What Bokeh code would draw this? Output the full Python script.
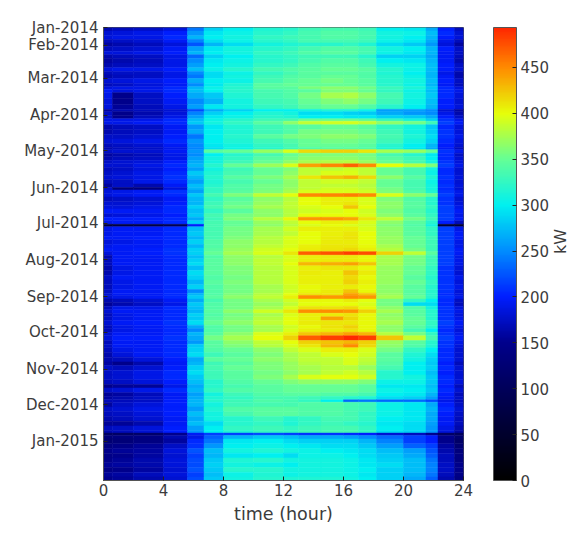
from math import pi
from bokeh.plotting import figure
from bokeh.models import (ColumnDataSource, LinearColorMapper, ColorBar, FixedTicker, Range1d, LinearAxis)
from bokeh.embed import file_html
from bokeh.resources import INLINE

hour_edges = [0, 0.6, 2, 4, 5.6, 6.7, 8, 10, 12, 13, 14.5, 16, 17, 18.2, 20, 21.5, 22.3, 23.4, 24]
month_days = [0, 15, 43, 74, 104, 135, 165, 196, 227, 257, 288, 318, 349]
month_labels = ["Jan-2014", "Feb-2014", "Mar-2014", "Apr-2014", "May-2014", "Jun-2014", "Jul-2014",
                "Aug-2014", "Sep-2014", "Oct-2014", "Nov-2014", "Dec-2014", "Jan-2015"]
hour_ticks = [0, 4, 8, 12, 16, 20, 24]
kw_ticks = [0, 50, 100, 150, 200, 250, 300, 350, 400, 450]
kw_max = 493.5
total_days = 382

row_days = [0, 3, 7, 10, 13, 16, 20, 23, 26, 30, 34, 37, 40, 43, 47, 50, 52, 55, 60, 65, 69, 71, 74, 77, 79, 82,
            86, 90, 94, 98, 101, 103, 106, 109, 112, 115, 118, 121, 125, 128, 132, 135, 137, 140, 143, 147, 150,
            153, 157, 160, 163, 166, 168, 172, 176, 179, 183, 186, 189, 192, 195, 198, 201, 205, 209, 213, 217,
            221, 224, 226, 229, 232, 235, 238, 241, 244, 247, 251, 254, 257, 260, 264, 267, 270, 274, 278, 282,
            285, 289, 293, 297, 301, 304, 308, 311, 314, 316, 320, 324, 328, 332, 336, 340, 342, 344, 347, 351,
            355, 359, 363, 367, 371, 375, 379]

kw_rows = [
    [165,170,175,185,240,285,300,315,320,330,335,335,330,300,295,265,200,170],
    [180,185,190,200,255,295,305,320,325,335,340,340,335,310,305,275,205,180],
    [185,190,190,205,270,300,310,325,330,335,340,340,335,310,300,270,200,185],
    [170,175,180,195,245,290,305,320,325,335,335,335,330,305,295,265,190,170],
    [160,165,170,185,225,270,290,310,315,320,320,325,315,290,280,255,185,160],
    [170,175,180,195,260,295,310,320,325,335,340,340,335,310,300,270,200,175],
    [185,185,190,200,270,300,310,325,330,340,345,345,335,305,295,270,195,175],
    [165,170,175,190,235,285,300,320,325,330,330,330,320,285,285,265,195,170],
    [160,165,170,190,250,295,305,320,325,335,340,340,330,300,295,270,195,165],
    [165,170,175,190,260,300,310,325,330,340,345,345,335,310,305,275,200,175],
    [185,190,190,200,275,305,320,335,340,345,350,350,345,320,305,275,200,180],
    [170,175,175,190,250,290,305,325,335,345,345,345,340,315,300,270,190,165],
    [165,170,175,190,240,290,310,330,340,345,350,350,340,320,305,270,195,165],
    [180,185,190,200,265,300,305,335,345,350,355,350,345,320,310,275,200,175],
    [170,175,185,195,250,295,315,345,350,350,350,350,345,320,305,270,195,170],
    [185,190,190,205,270,305,320,345,345,360,365,365,355,330,315,280,205,185],
    [195,185,190,205,275,300,320,335,340,345,360,360,350,325,305,275,205,190],
    [190,150,175,200,265,280,315,335,340,355,375,378,365,335,310,280,205,185],
    [185,150,175,195,250,270,310,330,335,350,360,365,355,330,305,275,200,180],
    [185,155,170,190,260,295,310,325,330,345,350,350,340,320,300,270,200,185],
    [160,165,170,180,220,265,285,300,300,310,315,315,305,260,260,250,180,160],
    [175,150,165,185,245,285,300,315,310,290,290,285,280,265,255,250,190,165],
    [175,150,170,190,260,295,305,320,315,300,300,295,295,285,280,265,200,175],
    [190,190,190,205,275,305,320,330,335,350,350,350,345,325,310,285,210,190],
    [190,190,195,205,280,310,325,345,365,385,390,392,385,365,355,330,215,195],
    [165,170,175,195,255,295,315,330,340,345,350,350,345,325,310,280,205,185],
    [165,170,175,195,265,300,315,330,340,355,355,355,350,330,310,285,210,185],
    [175,175,180,200,240,300,320,345,355,360,365,365,360,335,315,290,210,190],
    [180,185,190,205,255,300,315,330,340,350,355,355,350,330,310,285,205,185],
    [170,175,180,195,250,295,310,325,335,350,350,350,345,320,300,270,200,180],
    [165,170,175,190,245,290,305,320,330,340,345,345,340,315,295,265,195,170],
    [175,180,180,195,255,345,350,370,395,415,420,420,410,375,370,350,210,190],
    [160,165,170,190,250,300,320,335,350,360,360,360,355,335,320,295,205,175],
    [165,170,175,190,260,310,325,345,355,365,365,365,360,345,330,300,205,180],
    [175,180,185,200,265,310,330,350,365,375,378,380,370,350,335,310,210,185],
    [180,180,190,205,270,320,350,372,395,440,452,468,450,400,380,360,215,190],
    [170,175,185,200,260,310,330,350,360,385,385,390,385,350,335,310,205,180],
    [175,180,190,205,280,315,335,350,365,385,395,395,385,350,335,305,205,180],
    [180,185,190,210,270,320,345,360,375,410,425,432,415,365,345,315,210,185],
    [170,175,190,205,260,315,335,350,365,385,390,390,385,350,335,305,205,180],
    [160,175,165,195,275,320,340,355,365,385,385,385,380,350,335,310,210,185],
    [175,130,135,185,270,325,340,355,370,385,390,390,385,355,335,310,205,180],
    [185,190,195,210,260,325,345,360,375,395,395,395,390,360,340,315,210,190],
    [185,190,195,205,280,335,360,385,398,450,452,455,450,395,365,350,215,190],
    [170,175,180,195,270,325,345,365,380,400,405,405,395,360,340,320,210,180],
    [180,180,185,200,270,330,350,370,385,400,405,410,395,365,345,320,210,185],
    [185,185,190,205,285,335,355,375,385,395,400,425,400,365,345,325,215,190],
    [195,195,195,205,275,325,345,365,380,390,395,400,390,360,340,320,215,195],
    [180,185,190,200,280,335,355,365,380,400,400,400,395,365,345,325,215,190],
    [200,200,200,205,265,330,360,380,402,445,445,438,410,385,355,330,215,195],
    [190,195,195,205,285,335,350,370,385,400,405,405,395,365,345,320,200,170],
    [70,75,80,95,200,335,350,365,380,395,400,395,390,360,340,310,60,60],
    [190,195,195,205,275,335,355,375,390,405,405,405,395,365,345,325,215,190],
    [190,195,195,205,280,335,355,375,385,400,405,410,400,365,345,325,215,195],
    [195,195,200,205,270,335,360,380,395,400,408,412,400,370,350,330,215,195],
    [185,190,195,205,285,340,365,380,395,400,408,408,400,370,350,330,215,190],
    [190,195,195,205,270,340,365,385,395,405,410,410,402,375,350,330,215,190],
    [195,195,200,210,285,345,370,390,398,408,412,415,405,380,355,330,215,195],
    [185,195,200,210,285,350,375,395,410,470,475,482,478,420,385,345,215,195],
    [165,195,195,205,275,340,365,380,395,405,408,408,402,375,355,330,215,190],
    [170,195,195,205,285,345,365,385,395,405,408,408,402,375,355,330,215,190],
    [170,195,195,205,290,345,365,385,400,430,435,440,425,375,355,330,215,190],
    [165,190,195,205,275,345,360,380,395,405,410,410,402,370,350,325,210,185],
    [165,190,195,205,290,345,360,380,395,408,405,425,408,370,350,325,210,180],
    [175,195,195,205,285,340,355,380,395,405,405,415,402,370,345,320,210,190],
    [170,190,195,205,270,345,360,380,395,405,405,420,405,370,350,325,210,185],
    [170,190,195,205,285,340,355,375,390,402,405,408,402,365,345,320,210,190],
    [175,195,195,205,250,340,355,375,390,402,408,425,402,365,345,320,210,185],
    [180,195,195,205,270,340,360,380,398,412,412,440,425,370,345,320,205,185],
    [180,190,195,205,280,345,365,385,405,448,445,450,445,375,350,320,210,190],
    [165,170,180,195,265,335,355,375,390,402,402,408,398,355,325,300,205,175],
    [155,165,175,190,280,340,355,370,385,398,400,400,395,355,290,290,205,170],
    [170,190,190,205,275,340,355,375,395,412,412,415,402,365,340,310,210,185],
    [180,195,195,205,270,345,365,390,410,448,448,445,420,375,345,320,210,190],
    [170,190,195,205,285,340,355,375,395,405,408,412,402,365,345,320,210,185],
    [175,190,195,205,280,345,360,380,398,405,440,418,402,370,350,320,210,190],
    [180,195,200,210,290,350,365,385,398,408,410,410,402,375,350,325,215,195],
    [170,190,195,205,265,340,355,375,390,402,412,420,402,365,345,320,210,190],
    [170,190,195,205,250,340,355,375,395,405,408,412,402,365,335,300,205,185],
    [180,195,195,205,270,345,365,395,405,425,430,440,430,380,355,325,210,190],
    [185,200,200,210,265,355,375,400,420,472,482,492,482,425,385,335,215,195],
    [170,195,195,205,255,345,365,385,400,420,425,430,420,370,345,320,210,190],
    [175,195,195,205,280,345,360,380,395,410,430,450,415,365,340,315,210,185],
    [170,190,195,205,285,340,350,365,385,395,405,405,395,355,325,300,205,180],
    [165,185,195,205,290,330,345,360,375,385,395,400,390,345,315,290,205,180],
    [165,170,185,200,265,345,350,365,375,385,385,395,385,345,310,285,205,180],
    [160,150,165,195,270,330,345,360,370,380,385,395,380,340,300,280,200,170],
    [175,170,180,200,285,335,350,360,370,375,380,380,370,335,300,285,205,180],
    [175,180,190,205,290,330,345,355,365,375,385,390,380,320,300,275,200,180],
    [175,180,190,205,280,330,345,360,375,395,398,398,390,320,310,280,205,180],
    [170,175,185,200,275,320,340,350,360,365,365,365,360,305,305,280,205,185],
    [150,155,155,190,265,320,335,345,350,350,350,350,345,295,295,275,200,170],
    [175,180,190,205,270,325,340,345,350,350,350,350,345,305,300,280,205,180],
    [155,160,170,195,260,310,330,340,345,345,340,340,335,300,295,270,200,170],
    [160,165,175,195,265,315,325,335,335,330,325,320,315,290,285,260,195,175],
    [170,170,175,200,270,320,330,340,335,325,300,235,240,235,235,220,190,170],
    [160,175,185,200,270,310,330,335,335,340,340,335,330,305,295,265,200,175],
    [175,180,190,200,260,315,340,345,345,340,340,335,330,305,295,270,205,180],
    [170,175,185,200,275,310,335,345,345,340,340,335,325,305,295,265,200,175],
    [165,170,180,195,265,310,320,330,320,325,335,335,325,300,295,265,195,170],
    [155,155,165,195,275,290,320,325,315,325,330,325,320,295,290,260,195,170],
    [170,175,185,200,260,300,325,330,325,330,335,335,325,300,290,255,190,165],
    [165,170,180,200,255,300,315,325,325,330,335,335,325,290,285,255,185,160],
    [110,110,115,150,195,215,215,220,215,210,210,205,200,180,170,150,110,105],
    [130,135,140,165,190,230,270,280,275,265,265,260,250,235,215,200,150,120],
    [125,130,140,160,205,240,295,300,290,285,285,285,270,245,215,200,150,115],
    [140,145,155,175,210,255,300,305,300,295,290,290,280,260,230,215,160,125],
    [150,155,160,185,225,275,310,315,310,305,300,295,290,275,260,225,165,135],
    [145,150,160,180,215,270,295,300,290,305,305,300,290,280,265,230,170,140],
    [150,155,165,185,220,280,315,320,310,310,310,305,295,285,275,240,170,140],
    [155,160,165,185,220,285,310,305,300,310,310,305,295,290,275,245,175,150],
    [145,150,160,180,225,280,320,320,310,310,310,305,300,285,275,245,175,150],
    [155,160,170,185,215,275,305,315,305,310,310,305,295,285,270,240,170,145],
    [150,155,165,180,220,280,310,320,315,315,315,310,300,285,265,230,165,140],
]

cmap_stops = [(0, (0, 0, 0)), (100, (0, 0, 90)), (150, (0, 0, 140)), (200, (0, 30, 255)), (250, (0, 140, 255)),
              (300, (0, 240, 240)), (350, (100, 255, 150)), (400, (230, 255, 10)), (450, (255, 140, 0)),
              (493.5, (255, 40, 0))]


def make_palette(n=256):
    out = []
    for i in range(n):
        v = kw_max * i / (n - 1)
        for (a, ca), (b, cb) in zip(cmap_stops, cmap_stops[1:]):
            if v <= b:
                t = (v - a) / (b - a)
                out.append("#%02x%02x%02x" % tuple(round(x + (y - x) * t) for x, y in zip(ca, cb)))
                break
    return out


mapper = LinearColorMapper(palette=make_palette(), low=0, high=kw_max)
edges_y = row_days + [total_days]
left, right, top, bottom, vals = [], [], [], [], []
for r, row in enumerate(kw_rows):
    for c, v in enumerate(row):
        left.append(hour_edges[c])
        right.append(hour_edges[c + 1])
        top.append(edges_y[r])
        bottom.append(edges_y[r + 1])
        vals.append(v)
src = ColumnDataSource(dict(left=left, right=right, top=top, bottom=bottom, kw=vals))

TEXT = "#3c3c3c"
p = figure(frame_width=360, frame_height=453, x_range=Range1d(0, 24), y_range=Range1d(total_days, 0),
           toolbar_location=None, output_backend="svg", min_border_left=103, min_border_top=27,
           min_border_bottom=50, min_border_right=6, x_axis_label="time (hour)")
p.quad(left="left", right="right", top="top", bottom="bottom", source=src,
       fill_color={"field": "kw", "transform": mapper}, line_color={"field": "kw", "transform": mapper}, line_width=0.5)
p.grid.visible = False
p.outline_line_color = "#555555"
p.background_fill_color = "#ffffff"

p.xaxis.ticker = FixedTicker(ticks=hour_ticks)
p.yaxis.ticker = FixedTicker(ticks=month_days)
p.yaxis.major_label_overrides = dict(zip(month_days, month_labels))
for ax in (p.xaxis[0], p.yaxis[0]):
    ax.major_tick_in = 4
    ax.major_tick_out = 0
    ax.minor_tick_line_color = None
    ax.axis_line_color = "#555555"
    ax.major_tick_line_color = "#222222"
    ax.major_label_text_font = "DejaVu Sans"
    ax.major_label_text_font_size = "15px"
    ax.major_label_text_color = TEXT
p.xaxis.axis_label_text_font = "DejaVu Sans"
p.xaxis.axis_label_text_font_size = "17.5px"
p.xaxis.axis_label_text_font_style = "normal"
p.xaxis.axis_label_text_color = TEXT
p.xaxis.axis_label_standoff = 5
p.xaxis.major_label_standoff = 3
p.yaxis.major_label_standoff = 5

cb = ColorBar(color_mapper=mapper, ticker=FixedTicker(ticks=kw_ticks), width=23, height=453, padding=0,
              margin=0, location=(30, 0), major_tick_in=4, major_tick_out=0, major_tick_line_color="#222222",
              bar_line_color="#555555", major_label_text_font="DejaVu Sans", major_label_text_font_size="15px",
              major_label_text_color=TEXT, label_standoff=4, minor_tick_line_color=None, background_fill_color=None)
p.add_layout(cb, "right")

kw_axis = LinearAxis(ticker=FixedTicker(ticks=[]), axis_label="kW", axis_line_color=None,
                     major_tick_line_color=None, minor_tick_line_color=None, major_label_text_font_size="0px",
                     axis_label_text_font="DejaVu Sans", axis_label_text_font_size="16px",
                     axis_label_text_font_style="normal", axis_label_text_color=TEXT,
                     axis_label_standoff=8, axis_label_orientation=pi / 2)
p.add_layout(kw_axis, "right")

open("out.html", "w").write(file_html(p, INLINE))
